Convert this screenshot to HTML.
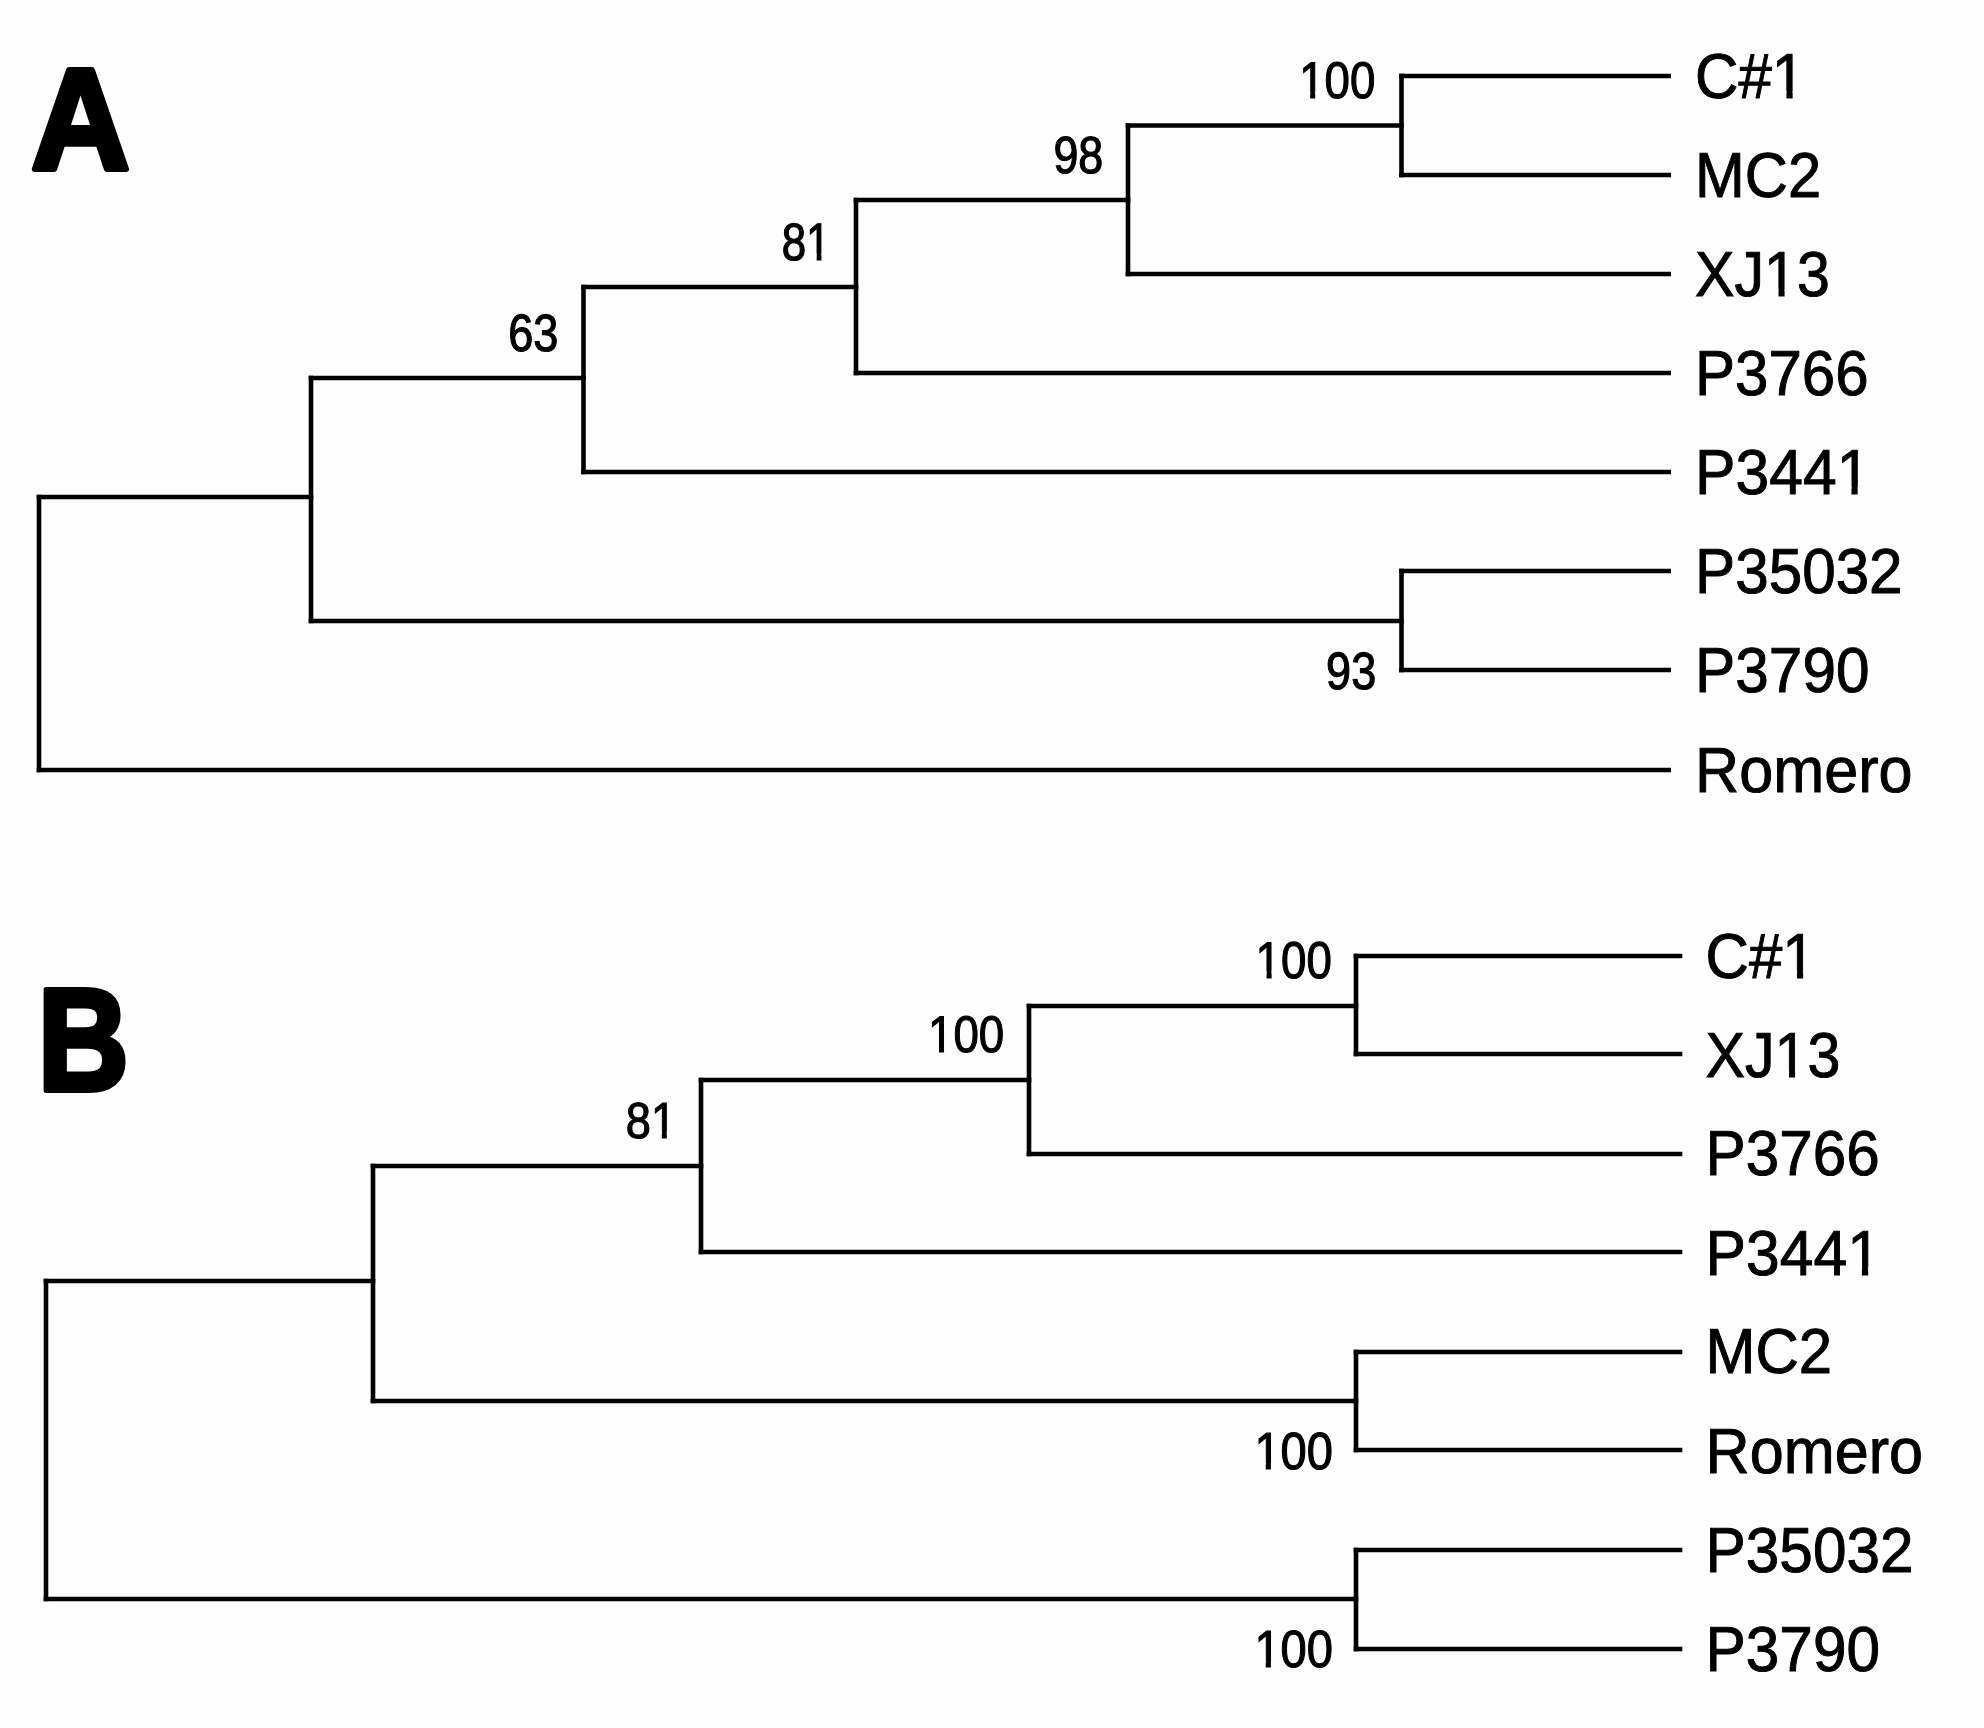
<!DOCTYPE html>
<html><head><meta charset="utf-8"><title>Phylogenetic trees</title>
<style>
html,body{margin:0;padding:0;background:#fdfdfd;}
body{width:1984px;height:1728px;overflow:hidden;position:relative;font-family:"Liberation Sans",sans-serif;}
svg{position:absolute;left:0;top:0;display:block;will-change:transform;}
text{font-family:"Liberation Sans",sans-serif;fill:#000;stroke:#000;text-rendering:geometricPrecision;}
.lab text{font-size:60px;stroke-width:0.9px;}
.num text{font-size:50px;stroke-width:1.1px;}
.pan{font-size:144px;font-weight:bold;stroke-width:6px;stroke-linejoin:round;}
.lab rect,.num rect{fill:#fdfdfd;stroke:none;}
</style></head><body>
<svg width="1984" height="1728" viewBox="0 0 1984 1728">
<rect x="0" y="0" width="1984" height="1728" fill="#fdfdfd"/>
<g stroke="#000" stroke-width="4.6" stroke-linecap="square" fill="none">
<line x1="1401.5" y1="76" x2="1668.7" y2="76"/>
<line x1="1401.5" y1="175" x2="1668.7" y2="175"/>
<line x1="1401.5" y1="76" x2="1401.5" y2="175"/>
<line x1="1128" y1="125.5" x2="1401.5" y2="125.5"/>
<line x1="1128" y1="125.5" x2="1128" y2="274"/>
<line x1="1128" y1="274" x2="1668.7" y2="274"/>
<line x1="856" y1="200" x2="1128" y2="200"/>
<line x1="856" y1="200" x2="856" y2="373"/>
<line x1="856" y1="373" x2="1668.7" y2="373"/>
<line x1="583.5" y1="287" x2="856" y2="287"/>
<line x1="583.5" y1="287" x2="583.5" y2="472"/>
<line x1="583.5" y1="472" x2="1668.7" y2="472"/>
<line x1="311" y1="378" x2="583.5" y2="378"/>
<line x1="311" y1="378" x2="311" y2="621"/>
<line x1="311" y1="621" x2="1401.5" y2="621"/>
<line x1="1401.5" y1="571" x2="1401.5" y2="670"/>
<line x1="1401.5" y1="571" x2="1668.7" y2="571"/>
<line x1="1401.5" y1="670" x2="1668.7" y2="670"/>
<line x1="39" y1="497" x2="311" y2="497"/>
<line x1="39" y1="497" x2="39" y2="770"/>
<line x1="39" y1="770" x2="1668.7" y2="770"/>
<line x1="1356" y1="956" x2="1680" y2="956"/>
<line x1="1356" y1="1054" x2="1680" y2="1054"/>
<line x1="1356" y1="956" x2="1356" y2="1054"/>
<line x1="1029" y1="1006" x2="1356" y2="1006"/>
<line x1="1029" y1="1006" x2="1029" y2="1154"/>
<line x1="1029" y1="1154" x2="1680" y2="1154"/>
<line x1="701" y1="1080" x2="1029" y2="1080"/>
<line x1="701" y1="1080" x2="701" y2="1252"/>
<line x1="701" y1="1252" x2="1680" y2="1252"/>
<line x1="373" y1="1166" x2="701" y2="1166"/>
<line x1="373" y1="1166" x2="373" y2="1401"/>
<line x1="373" y1="1401" x2="1356" y2="1401"/>
<line x1="1356" y1="1352" x2="1356" y2="1450"/>
<line x1="1356" y1="1352" x2="1680" y2="1352"/>
<line x1="1356" y1="1450" x2="1680" y2="1450"/>
<line x1="46" y1="1281" x2="373" y2="1281"/>
<line x1="46" y1="1281" x2="46" y2="1599"/>
<line x1="46" y1="1599" x2="1356" y2="1599"/>
<line x1="1356" y1="1550" x2="1356" y2="1649"/>
<line x1="1356" y1="1550" x2="1680" y2="1550"/>
<line x1="1356" y1="1649" x2="1680" y2="1649"/>
</g>
<g class="lab">
<g transform="translate(1695.1 98.10) scale(1 1.06)"><text x="0" y="0">C#1</text><rect x="78.82" y="-6.73" width="12.52" height="8.78"/><rect x="97.54" y="-6.73" width="12.05" height="8.78"/></g>
<g transform="translate(1695.1 196.80) scale(0.995 1.06)"><text x="0" y="0">MC2</text></g>
<g transform="translate(1695.1 296.10) scale(0.985 1.06)"><text x="0" y="0">XJ13</text><rect x="72.14" y="-6.73" width="12.52" height="8.78"/><rect x="90.86" y="-6.73" width="12.05" height="8.78"/></g>
<g transform="translate(1695.1 395.10) scale(1 1.06)"><text x="0" y="0">P3766</text></g>
<g transform="translate(1695.1 493.80) scale(1.01 1.06)"><text x="0" y="0">P3441</text><rect x="142.25" y="-6.73" width="12.52" height="8.78"/><rect x="160.97" y="-6.73" width="12.05" height="8.78"/></g>
<g transform="translate(1695.1 593.10) scale(1.003 1.06)"><text x="0" y="0">P35032</text></g>
<g transform="translate(1695.1 692.10) scale(1.005 1.06)"><text x="0" y="0">P3790</text></g>
<g transform="translate(1695.1 791.90) scale(1.019 1.06)"><text x="0" y="0">Romero</text></g>
<g transform="translate(1705.6 978.00) scale(1 1.06)"><text x="0" y="0">C#1</text><rect x="78.82" y="-6.73" width="12.52" height="8.78"/><rect x="97.54" y="-6.73" width="12.05" height="8.78"/></g>
<g transform="translate(1705.6 1077.00) scale(0.985 1.06)"><text x="0" y="0">XJ13</text><rect x="72.14" y="-6.73" width="12.52" height="8.78"/><rect x="90.86" y="-6.73" width="12.05" height="8.78"/></g>
<g transform="translate(1705.6 1175.10) scale(1.003 1.06)"><text x="0" y="0">P3766</text></g>
<g transform="translate(1705.6 1274.60) scale(1.01 1.06)"><text x="0" y="0">P3441</text><rect x="142.25" y="-6.73" width="12.52" height="8.78"/><rect x="160.97" y="-6.73" width="12.05" height="8.78"/></g>
<g transform="translate(1705.6 1372.70) scale(0.998 1.06)"><text x="0" y="0">MC2</text></g>
<g transform="translate(1705.6 1473.00) scale(1.019 1.06)"><text x="0" y="0">Romero</text></g>
<g transform="translate(1705.6 1571.60) scale(1.005 1.06)"><text x="0" y="0">P35032</text></g>
<g transform="translate(1705.6 1671.40) scale(1.005 1.06)"><text x="0" y="0">P3790</text></g>
</g>
<g class="num">
<g transform="translate(1299.21 97.83) scale(0.9131 1.0301)"><text x="0" y="0">100</text><rect x="1.26" y="-6.09" width="10.76" height="8.24"/><rect x="17.54" y="-6.09" width="10.37" height="8.24"/></g>
<g transform="translate(1053.39 172.72) scale(0.8966 1.0438)"><text x="0" y="0">98</text></g>
<g transform="translate(781.67 259.91) scale(0.8782 1.0520)"><text x="0" y="0">81</text><rect x="29.07" y="-6.09" width="10.76" height="8.24"/><rect x="45.35" y="-6.09" width="10.37" height="8.24"/></g>
<g transform="translate(508.21 350.91) scale(0.9023 1.0493)"><text x="0" y="0">63</text></g>
<g transform="translate(1326.08 689.11) scale(0.9008 1.0493)"><text x="0" y="0">93</text></g>
<g transform="translate(1255.61 977.73) scale(0.9131 1.0329)"><text x="0" y="0">100</text><rect x="1.26" y="-6.09" width="10.76" height="8.24"/><rect x="17.54" y="-6.09" width="10.37" height="8.24"/></g>
<g transform="translate(928.01 1052.13) scale(0.9131 1.0274)"><text x="0" y="0">100</text><rect x="1.26" y="-6.09" width="10.76" height="8.24"/><rect x="17.54" y="-6.09" width="10.37" height="8.24"/></g>
<g transform="translate(625.83 1137.65) scale(0.9033 1.0137)"><text x="0" y="0">81</text><rect x="29.07" y="-6.09" width="10.76" height="8.24"/><rect x="45.35" y="-6.09" width="10.37" height="8.24"/></g>
<g transform="translate(1254.39 1469.22) scale(0.9414 1.0411)"><text x="0" y="0">100</text><rect x="1.26" y="-6.09" width="10.76" height="8.24"/><rect x="17.54" y="-6.09" width="10.37" height="8.24"/></g>
<g transform="translate(1254.39 1667.42) scale(0.9414 1.0438)"><text x="0" y="0">100</text><rect x="1.26" y="-6.09" width="10.76" height="8.24"/><rect x="17.54" y="-6.09" width="10.37" height="8.24"/></g>
</g>
<text class="pan" transform="translate(31.2 168.8) scale(0.947 1)">A</text>
<text class="pan" style="font-size:145.5px" transform="translate(37.8 1089.6) scale(0.865 1)">B</text>
</svg></body></html>
